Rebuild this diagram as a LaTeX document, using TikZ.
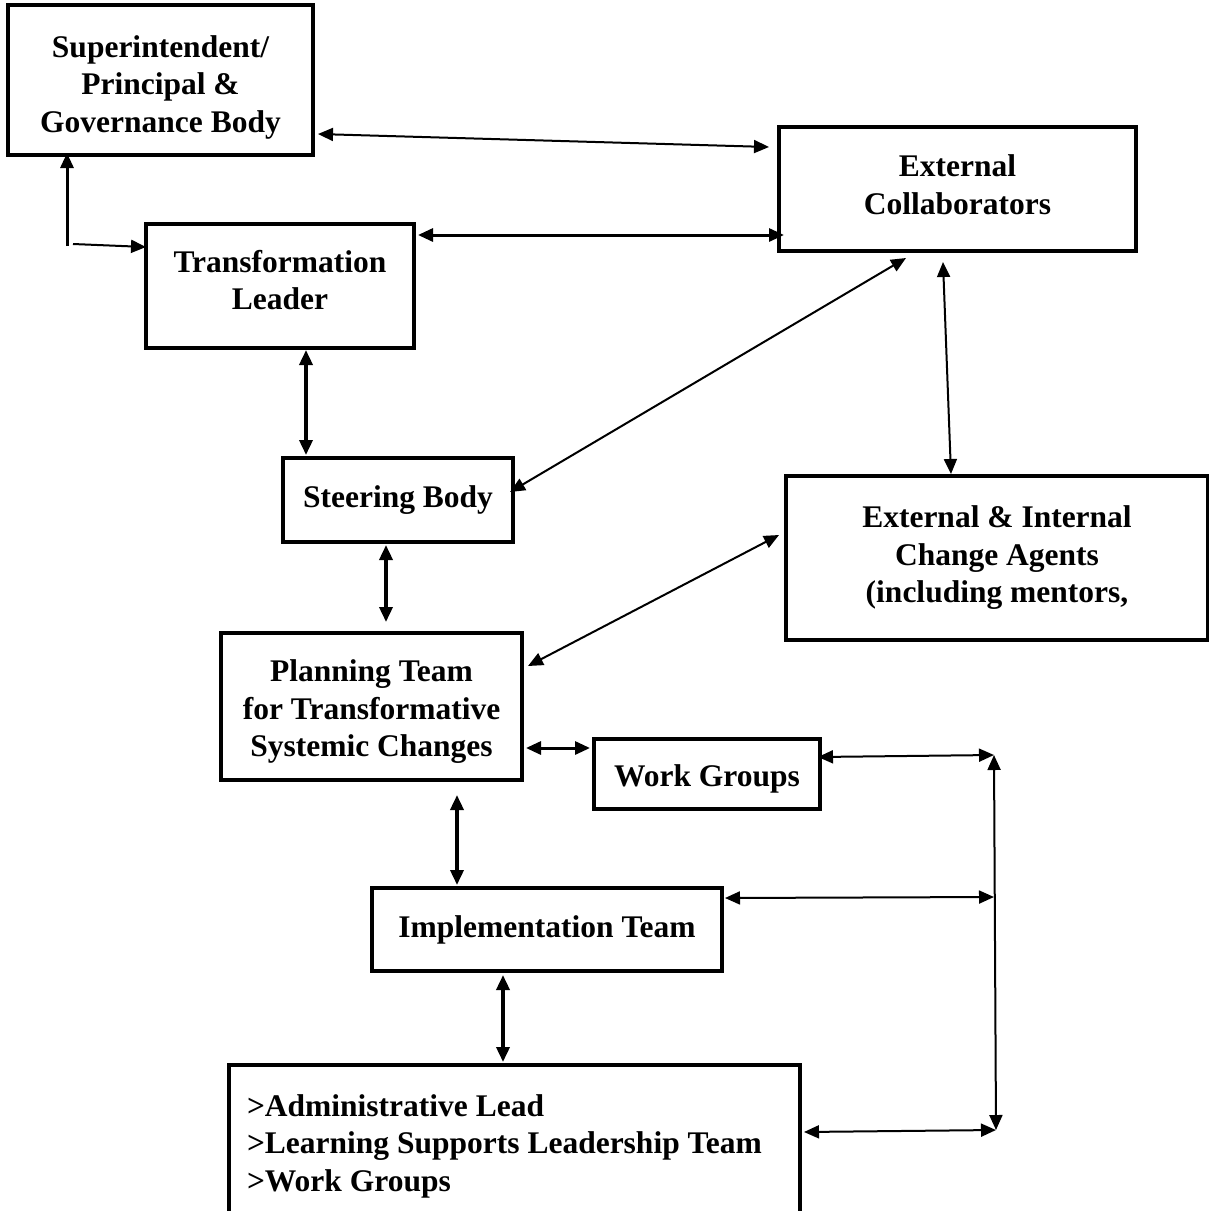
\documentclass[tikz,border=0pt]{standalone}
\usepackage{fontspec}
\setmainfont{Liberation Serif}
\usetikzlibrary{arrows.meta,positioning}

\begin{document}
\begin{tikzpicture}[x=1pt, y=-1pt,
>={Triangle[length=15pt,width=13pt]},
box/.style={rectangle, draw=black, line width=4pt, align=center, inner sep=0pt, outer sep=0pt, font=\fontsize{31.5}{37.5}\selectfont\bfseries},
link/.style={<->, line width=2pt},
biglink/.style={<->, line width=3.5pt}
]
\useasboundingbox (0,0) rectangle (1209,1211);

\node[box, minimum width=305pt, minimum height=150pt](sup) at (160.5,80){\rule{0pt}{36pt}Superintendent/\\Principal \&\\Governance Body};
\node[box, minimum width=357pt, minimum height=124pt](ext) at (957.5,189){External\\Collaborators\rule[-9pt]{0pt}{0pt}};
\node[box, minimum width=268pt, minimum height=124pt](tl) at (280,286){Transformation\\Leader\rule[-12pt]{0pt}{0pt}};
\node[box, minimum width=230pt, minimum height=84pt](steer) at (398,500){Steering Body};
\node[box, minimum width=422pt, minimum height=164pt](agents) at (997,558){External \& Internal\\Change Agents\\(including mentors,};
\node[box, minimum width=301pt, minimum height=147pt](plan) at (371.5,706.5){\rule{0pt}{32pt}Planning Team\\for Transformative\\Systemic Changes};
\node[box, minimum width=226pt, minimum height=70pt](wg) at (707,774){\rule{0pt}{32pt}Work Groups};
\node[box, minimum width=350pt, minimum height=83pt](impl) at (547,929.5){Implementation Team};
\node[box, anchor=north west, minimum width=571pt, minimum height=150pt, text width=535pt, align=flush left](lead) at (229,1065){\rule{0pt}{34pt}>Administrative Lead\\>Learning Supports Leadership Team\\>Work Groups};

\coordinate (junc) at (67,246);
\coordinate (rtop) at (994,755);
\coordinate (rmid) at (994,897);
\coordinate (rbot) at (996,1130);

\draw[->, line width=3pt] (junc) -- ([xshift=-93.5pt,yshift=2pt]sup.south);
\draw[->, line width=2pt] ([xshift=6pt,yshift=2pt]junc) -- ([yshift=39pt]tl.west);
\draw[link] ([xshift=5pt,yshift=-54pt]sup.east) -- ([xshift=-10pt,yshift=42pt]ext.west);
\draw[link, line width=3pt] ([xshift=4pt,yshift=51pt]tl.east) -- ([xshift=5pt,yshift=-46pt]ext.west);
\draw[biglink] ([xshift=26pt,yshift=-2pt]tl.south) -- ([xshift=-92pt,yshift=3pt]steer.north);
\draw[link] ([xshift=-3pt,yshift=8pt]steer.east) -- ([xshift=-51.5pt,yshift=-7pt]ext.south);
\draw[link] ([xshift=-14.5pt,yshift=-11pt]ext.south) -- ([xshift=-46pt,yshift=2pt]agents.north);
\draw[biglink] ([xshift=-12pt,yshift=-3pt]steer.south) -- ([xshift=14.5pt,yshift=11pt]plan.north);
\draw[link] ([xshift=6pt,yshift=40.5pt]plan.east) -- ([xshift=-7pt,yshift=23pt]agents.west);
\draw[link, line width=3pt] ([xshift=4pt,yshift=-41.5pt]plan.east) -- ([xshift=-4pt,yshift=26pt]wg.west);
\draw[biglink] ([xshift=85.5pt,yshift=-15pt]plan.south) -- ([xshift=-90pt,yshift=3pt]impl.north);
\draw[biglink] ([xshift=-44pt,yshift=-4pt]impl.south) -- ([xshift=-297pt,yshift=3pt]lead.north east);
\draw[link] ([xshift=-2pt,yshift=17pt]wg.east) -- (rtop);
\draw[link] (rtop) -- (rbot);
\draw[link] ([xshift=3pt,yshift=31.5pt]impl.east) -- (rmid);
\draw[link] ([xshift=4pt,yshift=-67pt]lead.north east) -- (rbot);

\end{tikzpicture}
\end{document}
